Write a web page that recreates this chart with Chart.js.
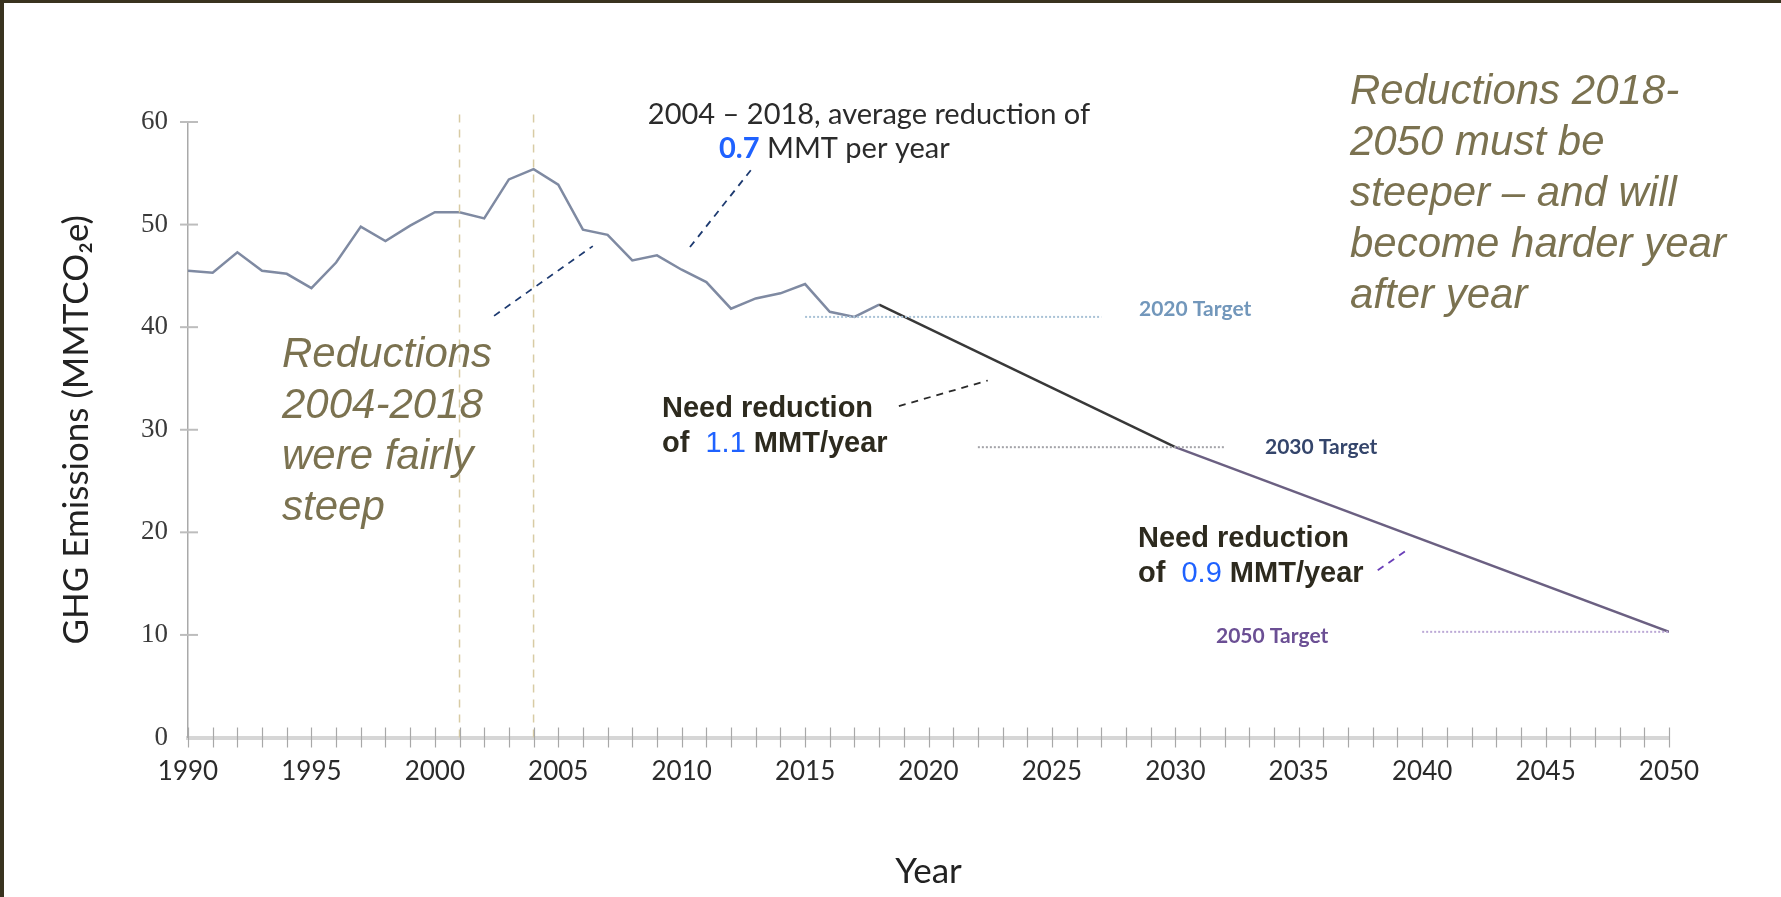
<!DOCTYPE html>
<html>
<head>
<meta charset="utf-8">
<title>GHG Emissions</title>
<script src="https://cdn.jsdelivr.net/npm/chart.js@4.4.0/dist/chart.umd.min.js"></script>
<style>
body { margin: 0; background: #fff; }
#wrap { position: relative; width: 1781px; height: 897px; }
#frame { position: absolute; left: 0; top: 0; width: 1781px; height: 897px; box-sizing: border-box;
         border-top: 3px solid #39331f; border-left: 4px solid #39331f; pointer-events: none; }
</style>
</head>
<body>
<div id="wrap">
<canvas id="ghg-chart" width="1781" height="897"></canvas>
<div id="frame"></div>
</div>
<script>
// inventory 1990-2018
var years = [1990, 1991, 1992, 1993, 1994, 1995, 1996, 1997, 1998, 1999,
             2000, 2001, 2002, 2003, 2004, 2005, 2006, 2007, 2008, 2009,
             2010, 2011, 2012, 2013, 2014, 2015, 2016, 2017, 2018];
var emissions = [45.5, 45.3, 47.3, 45.5, 45.2, 43.8, 46.3, 49.8, 48.4, 49.9,
                 51.2, 51.2, 50.6, 54.4, 55.4, 53.9, 49.5, 49.0, 46.5, 47.0,
                 45.6, 44.4, 41.8, 42.8, 43.3, 44.2, 41.5, 41.0, 42.2];

// required path to the targets
var pathYears = [2018, 2030, 2050];
var pathValues = [42.2, 28.3, 10.3];

// target levels and the span each dotted line covers
var targetNames = ["2020 Target", "2030 Target", "2050 Target"];
var targetValues = [41.0, 28.3, 10.3];
var targetFrom = [2015, 2022, 2040];
var targetTo = [2027, 2032, 2050];

// vertical markers
var markerYears = [2001, 2004];
var markerTop = 61.4;

var xMin = 1990, xMax = 2050, xStep = 5;
var yMin = 0, yMax = 60, yStep = 10;

var olive = "#7b7250";
var blue = "#1f62ff";
var sans = "Lato, 'DejaVu Sans', sans-serif";
var arial = "'Liberation Sans', Arial, sans-serif";

function pairs(xs, ys) {
  return xs.map(function (x, i) { return {x: x, y: ys[i]}; });
}

function flatLine(color, from, to, value) {
  return {
    data: [{x: from, y: value}, {x: to, y: value}],
    borderColor: color, borderWidth: 2, borderDash: [2, 2],
    pointRadius: 0, fill: false
  };
}

function leader(color, pts) {
  return {
    data: pts, borderColor: color, borderWidth: 1.8, borderDash: [7, 6],
    pointRadius: 0, fill: false, clip: false
  };
}

var targetColors = ["#a9c2d6", "#a3a3a8", "#bba8d6"];
var datasets = [];

markerYears.forEach(function (yr) {
  datasets.push({
    data: [{x: yr, y: 0}, {x: yr, y: markerTop}],
    borderColor: "#d8cba4", borderWidth: 1.5, borderDash: [8, 7],
    pointRadius: 0, fill: false, clip: false
  });
});

targetValues.forEach(function (v, i) {
  datasets.push(flatLine(targetColors[i], targetFrom[i], targetTo[i], v));
});

datasets.push({
  data: pairs(years, emissions),
  borderColor: "#7f8aa2", borderWidth: 2.5, pointRadius: 0, fill: false, tension: 0
});

datasets.push({
  data: pairs(pathYears, pathValues),
  borderWidth: 2.5, pointRadius: 0, fill: false,
  segment: {
    borderColor: function (c) { return c.p0.parsed.x >= 2030 ? "#6b6082" : "#383838"; }
  }
});

datasets.push(leader("#1d3a70", [{x: 2002.4, y: 41.1}, {x: 2006.4, y: 47.9}]));
datasets.push(leader("#1d3a70", [{x: 2012.8, y: 55.3}, {x: 2010.3, y: 47.7}]));
datasets.push(leader("#2a2a2a", [{x: 2018.8, y: 32.3}, {x: 2022.4, y: 34.8}]));
datasets.push(leader("#6a3fb8", [{x: 2038.2, y: 16.3}, {x: 2039.4, y: 18.3}]));

// tick marks that cross the axis lines
var crossTicks = {
  id: "crossTicks",
  afterDraw: function (chart) {
    var ctx = chart.ctx, xs = chart.scales.x, ys = chart.scales.y;
    var y0 = ys.getPixelForValue(0), x0 = xs.getPixelForValue(xMin);
    ctx.save();
    ctx.strokeStyle = "#a8a8a8";
    ctx.lineWidth = 1.2;
    for (var yr = xMin; yr <= xMax; yr++) {
      var px = Math.round(xs.getPixelForValue(yr)) + 0.5;
      ctx.beginPath();
      ctx.moveTo(px, y0 - 10);
      ctx.lineTo(px, y0 + 10);
      ctx.stroke();
    }
    ctx.strokeStyle = "#bdbdbd";
    ctx.lineWidth = 2;
    for (var v = yMin + yStep; v <= yMax; v += yStep) {
      var py = ys.getPixelForValue(v);
      ctx.beginPath();
      ctx.moveTo(x0 - 8, py);
      ctx.lineTo(x0 + 10, py);
      ctx.stroke();
    }
    ctx.restore();
  }
};

function runs(ctx, x, y, parts) {
  parts.forEach(function (p) {
    ctx.font = p[1];
    ctx.fillStyle = p[2];
    ctx.fillText(p[0], x, y);
    x += ctx.measureText(p[0]).width;
  });
}

function block(ctx, x, y, lines, lh) {
  lines.forEach(function (l, i) { ctx.fillText(l, x, y + i * lh); });
}

var notes = {
  id: "notes",
  afterDraw: function (chart) {
    var ctx = chart.ctx;
    ctx.save();
    ctx.textBaseline = "middle";
    ctx.textAlign = "left";

    ctx.font = "italic 42px " + arial;
    ctx.fillStyle = olive;
    block(ctx, 282, 355, ["Reductions", "2004-2018", "were fairly", "steep"], 51);
    block(ctx, 1350, 92, ["Reductions 2018-", "2050 must be", "steeper \u2013 and will",
                          "become harder year", "after year"], 51);

    ctx.textAlign = "center";
    ctx.font = "29px " + sans;
    ctx.fillStyle = "#2b2b2b";
    ctx.fillText("2004 \u2013 2018, average reduction of", 869, 115);
    ctx.textAlign = "left";
    runs(ctx, 719, 149, [["0.7", "bold 29px " + sans, blue],
                         [" MMT per year", "29px " + sans, "#2b2b2b"]]);

    var dark = "#2d2a1e";
    var bold = "bold 29px " + arial;
    runs(ctx, 662, 409, [["Need reduction", bold, dark]]);
    runs(ctx, 662, 444, [["of  ", bold, dark], ["1.1", "29px " + arial, blue], [" MMT/year", bold, dark]]);
    runs(ctx, 1138, 539, [["Need reduction", bold, dark]]);
    runs(ctx, 1138, 574, [["of  ", bold, dark], ["0.9", "29px " + arial, blue], [" MMT/year", bold, dark]]);

    var labelColors = ["#7297bb", "#34456b", "#6b4f94"];
    var labelX = [1139, 1265, 1216];
    var labelY = [309, 447, 636];
    ctx.font = "bold 21px " + sans;
    targetNames.forEach(function (n, i) {
      ctx.fillStyle = labelColors[i];
      ctx.fillText(n, labelX[i], labelY[i]);
    });
    ctx.restore();
  }
};

var ctx = document.getElementById("ghg-chart");

var ghgChart = new Chart(ctx, {
  type: "line",
  data: {datasets: datasets},
  options: {
    responsive: false,
    animation: false,
    layout: {padding: {top: 122, right: 112, left: 0, bottom: 0}},
    plugins: {legend: {display: false}, tooltip: {enabled: false}},
    scales: {
      x: {
        type: "linear", min: xMin, max: xMax,
        afterFit: function (s) { s.height = 159.5; },
        grid: {display: false, drawTicks: false},
        border: {display: true, color: "#d6d6d6", width: 4},
        ticks: {stepSize: xStep, autoSkip: false, padding: 19, color: "#2a2a2a",
                font: {family: sans, size: 26},
                callback: function (v) { return String(v); }},
        title: {display: true, text: "Year", color: "#222",
                font: {family: sans, size: 35}, padding: {bottom: 4}}
      },
      y: {
        min: yMin, max: yMax,
        afterFit: function (s) { s.width = 188; },
        grid: {display: false, drawTicks: false},
        border: {display: true, color: "#a9a9a9", width: 1.5},
        ticks: {stepSize: yStep, padding: 20, color: "#3a3a3a",
                font: {family: "'Liberation Serif', serif", size: 27}},
        title: {display: true, text: "GHG Emissions (MMTCO\u2082e)", color: "#222",
                font: {family: sans, size: 35}, padding: {top: 56}}
      }
    }
  },
  plugins: [crossTicks, notes]
});
</script>
</body>
</html>
